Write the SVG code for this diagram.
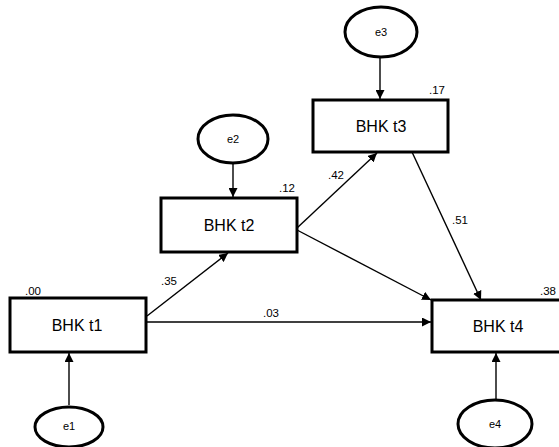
<svg xmlns="http://www.w3.org/2000/svg" width="559" height="447" viewBox="0 0 559 447">
<style>
.box{fill:#fff;stroke:#000;stroke-width:3}
.err{fill:#fff;stroke:#000;stroke-width:3}
.lbl{font-family:"Liberation Sans",Arial,sans-serif;font-size:16px;fill:#000;text-anchor:middle}
.elbl{font-family:"Liberation Sans",Arial,sans-serif;font-size:11px;fill:#000;text-anchor:middle}
.num{font-family:"Liberation Sans",Arial,sans-serif;font-size:11.5px;fill:#000}
.con{stroke:#000;stroke-width:1.4;fill:none;marker-end:url(#ah)}
</style>
<defs>
<marker id="ah" viewBox="0 0 10 10" refX="10" refY="5" markerWidth="9" markerHeight="9" markerUnits="userSpaceOnUse" orient="auto">
<path d="M0,0 L10,5 L0,10 z" fill="#000"/>
</marker>
</defs>
<rect width="559" height="447" fill="#fff"/>
<g id="connectors">
<line class="con" x1="69" y1="405" x2="69" y2="353"/>
<line class="con" x1="233" y1="163" x2="233" y2="197"/>
<line class="con" x1="380" y1="57" x2="380" y2="99"/>
<line class="con" x1="496" y1="399" x2="496" y2="353"/>
<line class="con" x1="147" y1="316" x2="228" y2="253"/>
<line class="con" x1="147" y1="322" x2="431" y2="322"/>
<line class="con" x1="297" y1="228" x2="377" y2="153"/>
<line class="con" x1="297" y1="230" x2="431" y2="300"/>
<line class="con" x1="412" y1="152" x2="481" y2="300"/>
<text class="num" x="161" y="285">.35</text>
<text class="num" x="263" y="317">.03</text>
<text class="num" x="328" y="179">.42</text>
<text class="num" x="452" y="224">.51</text>
</g>
<g id="t1">
<rect class="box" x="10" y="298" width="136" height="54"/>
<text class="lbl" x="77" y="331">BHK t1</text>
<text class="num" x="25" y="295">.00</text>
</g>
<g id="t2">
<rect class="box" x="161" y="198" width="136" height="54"/>
<text class="lbl" x="229" y="231">BHK t2</text>
<text class="num" x="279" y="192">.12</text>
</g>
<g id="t3">
<rect class="box" x="313" y="100" width="135" height="52"/>
<text class="lbl" x="381" y="132">BHK t3</text>
<text class="num" x="429" y="94">.17</text>
</g>
<g id="t4">
<rect class="box" x="432" y="300" width="135" height="52"/>
<text class="lbl" x="498" y="332">BHK t4</text>
<text class="num" x="540" y="295">.38</text>
</g>
<g id="e1">
<ellipse class="err" cx="69" cy="427" rx="34" ry="20"/>
<text class="elbl" x="69" y="430">e1</text>
</g>
<g id="e2">
<ellipse class="err" cx="233" cy="139" rx="35" ry="24"/>
<text class="elbl" x="233" y="143">e2</text>
</g>
<g id="e3">
<ellipse class="err" cx="381" cy="32" rx="36" ry="25"/>
<text class="elbl" x="381" y="36">e3</text>
</g>
<g id="e4">
<ellipse class="err" cx="495" cy="424" rx="37" ry="24"/>
<text class="elbl" x="495" y="428">e4</text>
</g>
</svg>
